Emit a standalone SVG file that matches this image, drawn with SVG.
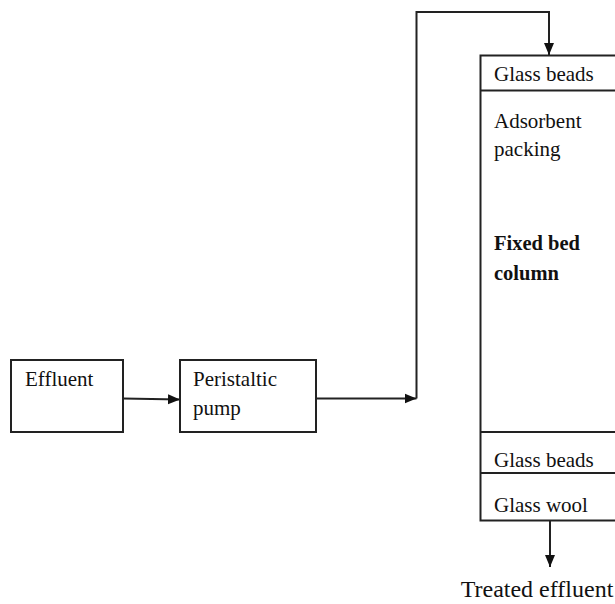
<svg xmlns="http://www.w3.org/2000/svg" width="615" height="604" viewBox="0 0 615 604">
<defs>
<style>
.box{fill:#fff;stroke:#222;stroke-width:2}
.ln{fill:none;stroke:#222;stroke-width:2}
.t{font-family:"Liberation Serif","Times New Roman",serif;font-size:21px;fill:#111}
.b{font-weight:bold;font-size:20.5px}
.big{font-size:24px}
</style>
<marker id="arr" viewBox="0 0 12 12" refX="12" refY="6" markerWidth="12" markerHeight="12" markerUnits="userSpaceOnUse" orient="auto">
<path d="M0,1 L12,6 L0,11 Z" fill="#111"/>
</marker>
</defs>
<rect width="615" height="604" fill="#fff"/>
<g id="connectors">
<path class="ln" d="M123,398.5 L180,399.5" marker-end="url(#arr)"/>
<path class="ln" d="M316,398.5 L416.5,398.5" marker-end="url(#arr)"/>
<path class="ln" d="M416.5,398.5 L416.5,12 L549,12 L549,55" marker-end="url(#arr)"/>
<path class="ln" d="M550,520.5 L550,567" marker-end="url(#arr)"/>
</g>
<g id="effluent">
<rect class="box" x="11" y="360" width="112" height="72"/>
<text class="t" x="25" y="386">Effluent</text>
</g>
<g id="pump">
<rect class="box" x="180" y="360" width="136" height="72"/>
<text class="t" x="193" y="386">Peristaltic</text>
<text class="t" x="193" y="415">pump</text>
</g>
<g id="column">
<rect class="box" x="480.5" y="55.5" width="150" height="465"/>
<line class="ln" x1="480" y1="90.5" x2="615" y2="90.5"/>
<line class="ln" x1="480" y1="432" x2="615" y2="432"/>
<line class="ln" x1="480" y1="473" x2="615" y2="473"/>
<text class="t" x="494" y="81">Glass beads</text>
<text class="t" x="494" y="128">Adsorbent</text>
<text class="t" x="494" y="156">packing</text>
<text class="t b" x="494" y="250">Fixed bed</text>
<text class="t b" x="494" y="280">column</text>
<text class="t" x="494" y="467">Glass beads</text>
<text class="t" x="494" y="512">Glass wool</text>
</g>
<g id="treated">
<text class="t big" x="537" y="597" text-anchor="middle">Treated effluent</text>
</g>
</svg>
